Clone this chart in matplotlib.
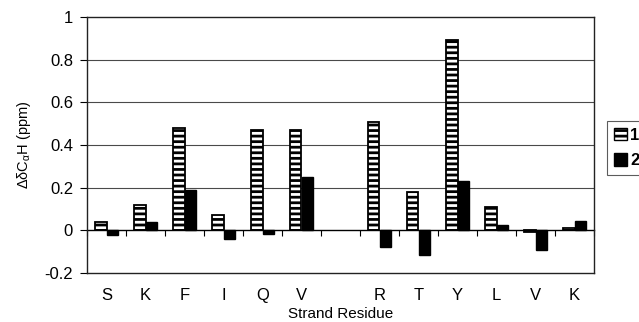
import numpy as np
import matplotlib
matplotlib.use("Agg")
import matplotlib.pyplot as plt
from matplotlib.patches import Patch

plt.rcParams["font.family"] = ["Liberation Sans", "DejaVu Sans"]
plt.rcParams["mathtext.fontset"] = "custom"
plt.rcParams["mathtext.rm"] = "Liberation Sans"
plt.rcParams["hatch.linewidth"] = 2.0

# ── Data ──────────────────────────────────────────────────────────────────────
residues = ["S", "K", "F", "I", "Q", "V", "", "R", "T", "Y", "L", "V", "K"]
series1 = [0.04, 0.12, 0.48, 0.07, 0.47, 0.47, np.nan, 0.51, 0.18, 0.89, 0.11, -0.01, 0.01]
series2 = [-0.02, 0.04, 0.19, -0.04, -0.015, 0.25, np.nan, -0.08, -0.115, 0.23, 0.025, -0.09, 0.045]
yticks = [-0.2, 0, 0.2, 0.4, 0.6, 0.8, 1]
ytick_labels = ["-0.2", "0", "0.2", "0.4", "0.6", "0.8", "1"]

# ── Plot ──────────────────────────────────────────────────────────────────────
fig = plt.figure(figsize=(6.39, 3.22), dpi=100)
ax = fig.add_axes([87 / 639, 1 - 273 / 322, (594 - 87) / 639, (273 - 17) / 322])

x = np.arange(len(residues))
w = 0.3
ax.bar(x - w / 2, series1, width=w, color="white", edgecolor="black",
       hatch="---", linewidth=1.3, zorder=3)
ax.bar(x + w / 2, series2, width=w, color="black", edgecolor="black",
       linewidth=1.0, zorder=3)

ax.set_xlim(-0.5, len(residues) - 0.5)
ax.set_ylim(-0.2, 1.0)
ax.set_yticks(yticks)
ax.set_yticklabels(ytick_labels, fontsize=12)
ax.set_xticks(x)
ax.set_xticklabels(residues, fontsize=12)
ax.tick_params(axis="x", length=0, pad=11)
ax.tick_params(axis="y", length=5, width=0.8, pad=5)

for yv in [0.2, 0.4, 0.6, 0.8]:
    ax.axhline(yv, color="#4a4a4a", linewidth=0.8, zorder=1)
for sp in ax.spines.values():
    sp.set_linewidth(1.0)
    sp.set_color("#222222")

# category axis crossing at zero
zero_frac = 0.2 / 1.2
sec = ax.secondary_xaxis(zero_frac)
sec.set_xticks(np.arange(len(residues) + 1) - 0.5)
sec.set_xticklabels([])
sec.tick_params(axis="x", direction="out", length=4, width=0.8)
sec.spines["bottom"].set_linewidth(1.0)

ax.set_ylabel("ΔδC$_{\\mathrm{α}}$H (ppm)", fontsize=10.5, labelpad=8)
ax.set_xlabel("Strand Residue", fontsize=11, labelpad=3)

handles = [Patch(facecolor="white", edgecolor="black", hatch="---", label="1"),
           Patch(facecolor="black", edgecolor="black", label="2")]
leg = fig.legend(handles=handles, loc="upper left",
                 bbox_to_anchor=(607 / 639, 1 - 121 / 322),
                 fontsize=12, frameon=True, fancybox=False,
                 handlelength=0.8, handleheight=0.8, handletextpad=0.2,
                 borderpad=0.4, labelspacing=0.6, borderaxespad=0)
leg.get_frame().set_edgecolor("#333333")
leg.get_frame().set_linewidth(0.8)
for t in leg.get_texts():
    t.set_fontweight("bold")

fig.savefig("out.png", dpi=100)
